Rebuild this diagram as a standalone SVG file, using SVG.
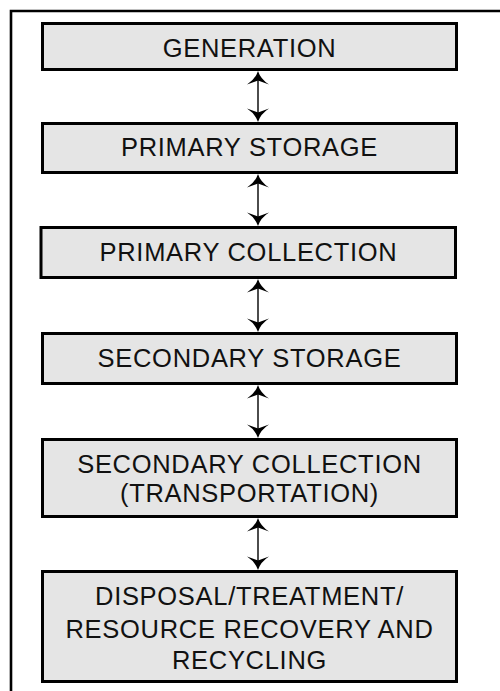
<svg xmlns="http://www.w3.org/2000/svg" width="500" height="691" viewBox="0 0 500 691">
<style>
.box{fill:#e5e5e5;stroke:#000;stroke-width:3}
.lbl{font-family:"Liberation Sans",Arial,sans-serif;font-size:25.5px;letter-spacing:0.7px;fill:#111;text-anchor:middle}
.shaft{stroke:#000;stroke-width:1.4;fill:none}
.frame{stroke:#000;stroke-width:2.6;fill:none}
</style>
<defs>
<path id="headUp" d="M0,0 Q2.5,8 11,13.5 L0,9.5 L-11,13.5 Q-2.5,8 0,0 Z" fill="#000"/>
<path id="headDown" d="M0,0 Q2.5,-8 11,-13.5 L0,-9.5 L-11,-13.5 Q-2.5,-8 0,0 Z" fill="#000"/>
</defs>
<rect width="500" height="691" fill="#fff"/>
<path class="frame" d="M11,691 V11 H500"/>
<g id="connectors">
<g><line class="shaft" x1="258" y1="74" x2="258" y2="119"/><use href="#headUp" x="258" y="71"/><use href="#headDown" x="258" y="122"/></g>
<g><line class="shaft" x1="258" y1="177" x2="258" y2="223"/><use href="#headUp" x="258" y="174"/><use href="#headDown" x="258" y="226"/></g>
<g><line class="shaft" x1="258" y1="282" x2="258" y2="329"/><use href="#headUp" x="258" y="279"/><use href="#headDown" x="258" y="332"/></g>
<g><line class="shaft" x1="258" y1="388" x2="258" y2="435"/><use href="#headUp" x="258" y="385"/><use href="#headDown" x="258" y="438"/></g>
<g><line class="shaft" x1="258" y1="521" x2="258" y2="567"/><use href="#headUp" x="258" y="518"/><use href="#headDown" x="258" y="570"/></g>
</g>
<g id="generation"><rect class="box" x="42.5" y="23.5" width="414" height="46"/><text class="lbl" x="249.5" y="57">GENERATION</text></g>
<g id="primary-storage"><rect class="box" x="42.5" y="123.5" width="414" height="49"/><text class="lbl" x="249.5" y="156">PRIMARY STORAGE</text></g>
<g id="primary-collection"><rect class="box" x="41" y="227.5" width="414.5" height="50"/><text class="lbl" x="248.5" y="261">PRIMARY COLLECTION</text></g>
<g id="secondary-storage"><rect class="box" x="42.5" y="333.5" width="414" height="50"/><text class="lbl" x="249.5" y="367">SECONDARY STORAGE</text></g>
<g id="secondary-collection"><rect class="box" x="42.5" y="439.5" width="414" height="77"/><text class="lbl" x="249.5" y="473">SECONDARY COLLECTION</text><text class="lbl" x="249.5" y="502">(TRANSPORTATION)</text></g>
<g id="disposal"><rect class="box" x="42.5" y="571.5" width="414" height="110"/><text class="lbl" x="249.5" y="605">DISPOSAL/TREATMENT/</text><text class="lbl" x="249.5" y="638">RESOURCE RECOVERY AND</text><text class="lbl" x="249.5" y="669">RECYCLING</text></g>
</svg>
